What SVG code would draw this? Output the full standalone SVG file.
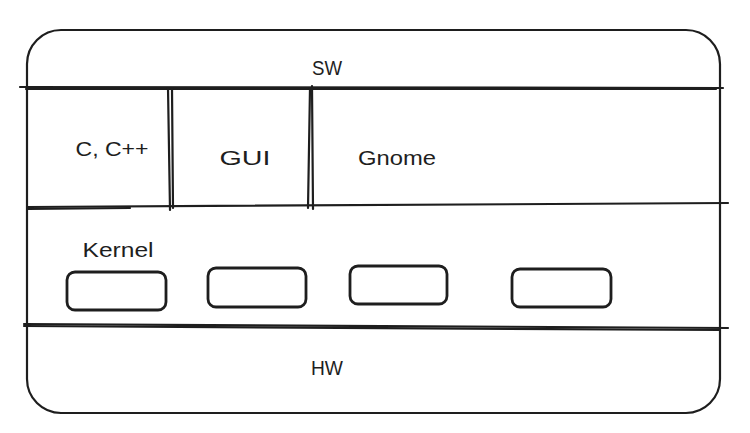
<svg xmlns="http://www.w3.org/2000/svg" width="750" height="433" viewBox="0 0 750 433">
<style>
.s{fill:none;stroke:#1e1e1e;stroke-width:2.2;stroke-linecap:round;stroke-linejoin:round}
.b{fill:none;stroke:#1e1e1e;stroke-width:2.8}
.t{font-family:"Liberation Sans",sans-serif;font-size:21px;fill:#1e1e1e;text-anchor:middle}
</style>
<rect width="750" height="433" fill="#ffffff"/>
<g id="frame">
<rect class="s" x="27" y="30" width="693" height="383" rx="34"/>
</g>
<g id="connectors">
<path class="s" d="M20 87 L723 88"/>
<path class="s" d="M26 89 L716 89" stroke-width="1"/>
<path class="s" d="M28 207 L728 203"/>
<path class="s" d="M28 209 L130 208" stroke-width="1"/>
<path class="s" d="M24 324 L728 328"/>
<path class="s" d="M24 326 L720 330" stroke-width="1"/>
<path class="s" d="M168 88 L170 210"/>
<path class="s" d="M172 88 L173 208" stroke-width="1"/>
<path class="s" d="M310 88 L308 208"/>
<path class="s" d="M312 86 L313 209" stroke-width="1"/>
</g>
<g id="sw"><text class="t" x="327" y="75" textLength="30" lengthAdjust="spacingAndGlyphs">SW</text></g>
<g id="cpp"><text class="t" x="112" y="156" textLength="73" lengthAdjust="spacingAndGlyphs">C, C++</text></g>
<g id="gui"><text class="t" x="245" y="165" textLength="51" lengthAdjust="spacingAndGlyphs">GUI</text></g>
<g id="gnome"><text class="t" x="397" y="165" textLength="78" lengthAdjust="spacingAndGlyphs">Gnome</text></g>
<g id="kernel"><text class="t" x="118" y="257" textLength="71" lengthAdjust="spacingAndGlyphs">Kernel</text></g>
<g id="hw"><text class="t" x="327" y="375" textLength="32" lengthAdjust="spacingAndGlyphs">HW</text></g>
<g id="box1"><rect class="b" x="67" y="272" width="99" height="38" rx="8"/></g>
<g id="box2"><rect class="b" x="208" y="268" width="98" height="39" rx="8"/></g>
<g id="box3"><rect class="b" x="350" y="266" width="97" height="38" rx="8"/></g>
<g id="box4"><rect class="b" x="512" y="269" width="99" height="38" rx="8"/></g>
</svg>
